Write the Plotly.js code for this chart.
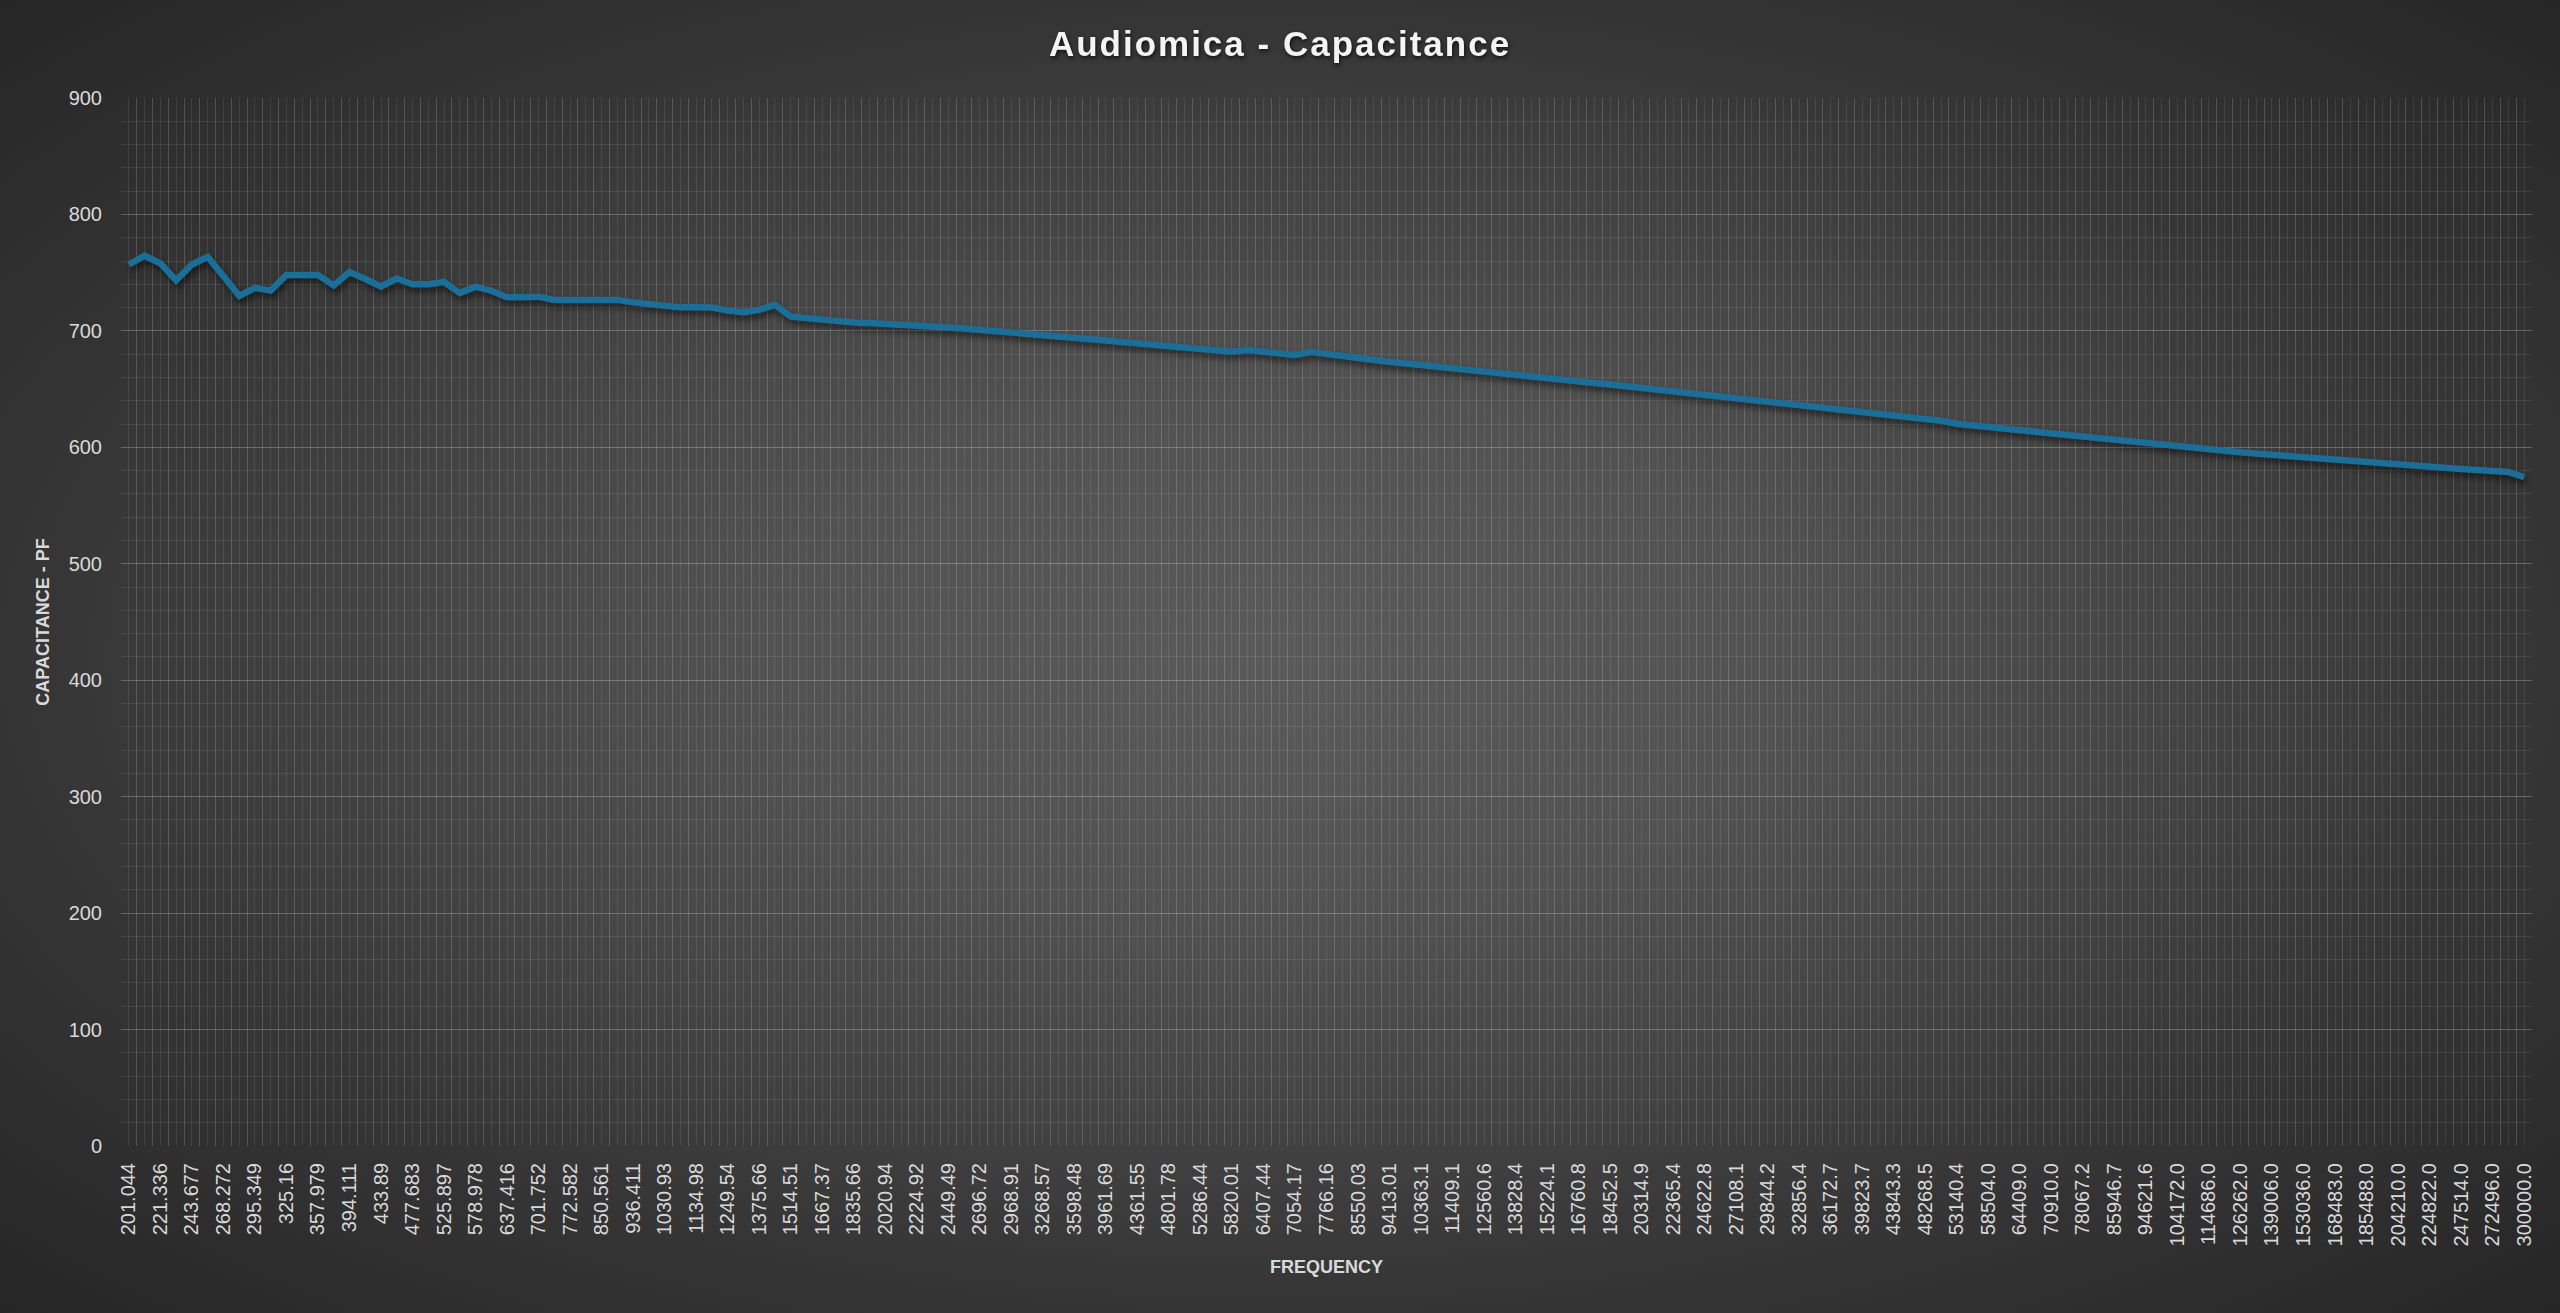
<!DOCTYPE html>
<html>
<head>
<meta charset="utf-8">
<script src="https://cdn.plot.ly/plotly-3.0.1.min.js"></script>
<style>
  html, body { margin: 0; padding: 0; }
  #chart {
    width: 2560px;
    height: 1313px;
    background: radial-gradient(ellipse at 50% 50%, #5a5a5a 0%, #525252 28%, #454545 48%, #363636 68%, #262626 100%);
  }
  /* Excel-like shadow under the series line and the title */
  #chart .scatterlayer .js-line { filter: drop-shadow(2px 4px 3px rgba(0,0,0,0.55)); }
  #chart .gtitle { letter-spacing: 2px; filter: drop-shadow(1px 2px 2px rgba(0,0,0,0.7)); }
</style>
</head>
<body>
<div id="chart"></div>
<script>
// Frequency labels shown on the axis (every second measurement point)
const freqLabels = [
  '201.044', '221.336', '243.677', '268.272', '295.349', '325.16', '357.979', '394.111', '433.89', '477.683',
  '525.897', '578.978', '637.416', '701.752', '772.582', '850.561', '936.411', '1030.93', '1134.98', '1249.54',
  '1375.66', '1514.51', '1667.37', '1835.66', '2020.94', '2224.92', '2449.49', '2696.72', '2968.91', '3268.57',
  '3598.48', '3961.69', '4361.55', '4801.78', '5286.44', '5820.01', '6407.44', '7054.17', '7766.16', '8550.03',
  '9413.01', '10363.1', '11409.1', '12560.6', '13828.4', '15224.1', '16760.8', '18452.5', '20314.9', '22365.4',
  '24622.8', '27108.1', '29844.2', '32856.4', '36172.7', '39823.7', '43843.3', '48268.5', '53140.4', '58504.0',
  '64409.0', '70910.0', '78067.2', '85946.7', '94621.6', '104172.0', '114686.0', '126262.0', '139006.0', '153036.0',
  '168483.0', '185488.0', '204210.0', '224822.0', '247514.0', '272496.0', '300000.0'
];

// Capacitance in pF, one value per measurement point (153 points)
const capacitance = [
  757, 764.5, 758, 743.5, 757, 763.5, 747, 730, 737, 734.6,
  748, 748, 748, 739, 750.5, 744.5, 738, 745, 740, 740,
  742, 732.5, 738, 734.5, 728.8, 728.8, 729.4, 726.6, 726.6, 727,
  726.6, 726.6, 724.5, 723, 721.4, 720.2, 720.2, 720, 717.4, 716,
  718, 722.3, 712.2, 710.8, 709.4, 708, 707.3, 706.8, 706.3, 705.5,
  705, 704.5, 703, 702, 701, 700, 698.5, 697.5, 696.3, 695.3,
  694, 693, 691.8, 690.5, 689.3, 688, 686.6, 685.4, 684.3, 682.5,
  682.2, 683.5, 682.3, 680.5, 679.3, 682, 680, 678, 676.5, 675,
  673.5, 672, 670.5, 669.2, 668, 666.5, 665.5, 663.7, 662.3, 661,
  659.5, 657.8, 656.5, 655.2, 654, 652.5, 651.5, 650.3, 649, 647.5,
  645.8, 644.5, 643, 641.7, 640.2, 638.7, 637, 635.4, 633.8, 632.3,
  631, 629.6, 628.3, 626.8, 625, 622.8, 620.2, 618.8, 617.3, 615.8,
  614, 612.8, 611.7, 610.5, 609.2, 608.2, 606.8, 605.4, 603.8, 602,
  600.4, 599.2, 598, 596.8, 595.7, 594.6, 593.5, 592.3, 591.1, 589.9,
  588.8, 587.6, 586.5, 585.5, 584.6, 583.7, 582.9, 582.1, 581.3, 580.5,
  579.7, 578.8, 574.5
];

const yTicks = [0, 100, 200, 300, 400, 500, 600, 700, 800, 900];

const pointIndex = capacitance.map((_, i) => i);
const labelIndex = freqLabels.map((_, i) => i * 2);
const xRange = [-0.5, capacitance.length - 0.5];

const textColor = '#d9d9d9';
const majorGrid = 'rgba(255,255,255,0.17)';
const minorGrid = 'rgba(255,255,255,0.09)';

const series = {
  x: pointIndex,
  y: capacitance,
  type: 'scatter',
  mode: 'lines',
  line: { color: '#1b6e97', width: 6.5 },
  hoverinfo: 'skip',
  showlegend: false
};

// invisible copy so the grid-only axis x2 gets a subplot and is drawn
const gridHolder = {
  x: pointIndex,
  y: capacitance,
  xaxis: 'x2',
  type: 'scatter',
  mode: 'lines',
  line: { color: 'rgba(0,0,0,0)', width: 0 },
  opacity: 0,
  hoverinfo: 'skip',
  showlegend: false
};

const layout = {
  width: 2560,
  height: 1313,
  paper_bgcolor: 'rgba(0,0,0,0)',
  plot_bgcolor: 'rgba(0,0,0,0)',
  margin: { l: 121, r: 28, t: 98, b: 167 },
  font: { family: 'Liberation Sans, Arial, sans-serif', color: textColor, size: 20 },
  title: {
    text: '<b>Audiomica - Capacitance</b>',
    font: { size: 35, color: '#f4f4f4', family: 'Liberation Sans, Arial, sans-serif' },
    xref: 'container',
    x: 0.5,
    xanchor: 'center',
    yref: 'container',
    y: 0.967,
    yanchor: 'middle'
  },
  xaxis: {
    range: xRange,
    tickmode: 'array',
    tickvals: labelIndex,
    ticktext: freqLabels,
    tickangle: -90,
    tickfont: { size: 20, color: textColor },
    ticks: '',
    ticklabelstandoff: 12,
    showgrid: false,
    zeroline: false,
    showline: false,
    title: {
      text: '<b>FREQUENCY</b>',
      font: { size: 18, color: textColor },
      standoff: 14
    }
  },
  // grid-only axis: boundaries between points and point centres
  xaxis2: {
    overlaying: 'x',
    anchor: 'y',
    range: xRange,
    tickmode: 'linear',
    tick0: -0.5,
    dtick: 1,
    showgrid: true,
    gridcolor: majorGrid,
    gridwidth: 1,
    minor: { tickmode: 'linear', tick0: 0, dtick: 1, showgrid: true, gridcolor: minorGrid, gridwidth: 1 },
    showticklabels: false,
    ticks: '',
    zeroline: false,
    showline: false
  },
  yaxis: {
    range: [0, 900],
    tickmode: 'array',
    tickvals: yTicks,
    tickfont: { size: 20, color: textColor },
    ticks: '',
    ticklabelstandoff: 18,
    showgrid: true,
    gridcolor: majorGrid,
    gridwidth: 1,
    minor: { tickmode: 'linear', tick0: 0, dtick: 20, showgrid: true, gridcolor: minorGrid, gridwidth: 1 },
    zeroline: false,
    showline: false,
    title: {
      text: '<b>CAPACITANCE - PF</b>',
      font: { size: 18, color: textColor },
      standoff: 14
    }
  }
};

Plotly.newPlot('chart', [gridHolder, series], layout, { staticPlot: true, displayModeBar: false });
</script>
</body>
</html>
